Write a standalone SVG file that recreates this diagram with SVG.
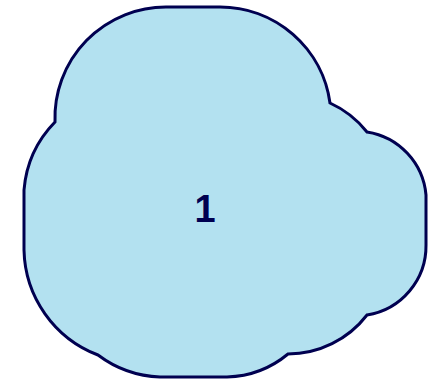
<svg xmlns="http://www.w3.org/2000/svg" width="442" height="380" viewBox="0 0 442 380">
<style>
.cloud{fill:#b3e1f0;stroke:#000050;stroke-width:3;stroke-linejoin:miter}
.lbl{font-family:"Liberation Sans",Arial,sans-serif;font-weight:bold;font-size:38px;fill:#000050;text-anchor:middle}
</style>
<g id="node1">
<path class="cloud" d="M 55,122 A 111 111 0 0 1 167,7 L 220,7 A 111 111 0 0 1 330,103 A 100 100 0 0 1 367,132 A 70 70 0 0 1 426,195 L 426,245 A 70 70 0 0 1 367,315 A 100 100 0 0 1 288,354 A 100 100 0 0 1 227,377 L 160,377 A 110 110 0 0 1 98,355 A 115 115 0 0 1 24,250 L 24,190 A 110 110 0 0 1 55,122 Z"/>
<text class="lbl" x="205" y="222">1</text>
</g>
<g id="connectors"></g>
</svg>
